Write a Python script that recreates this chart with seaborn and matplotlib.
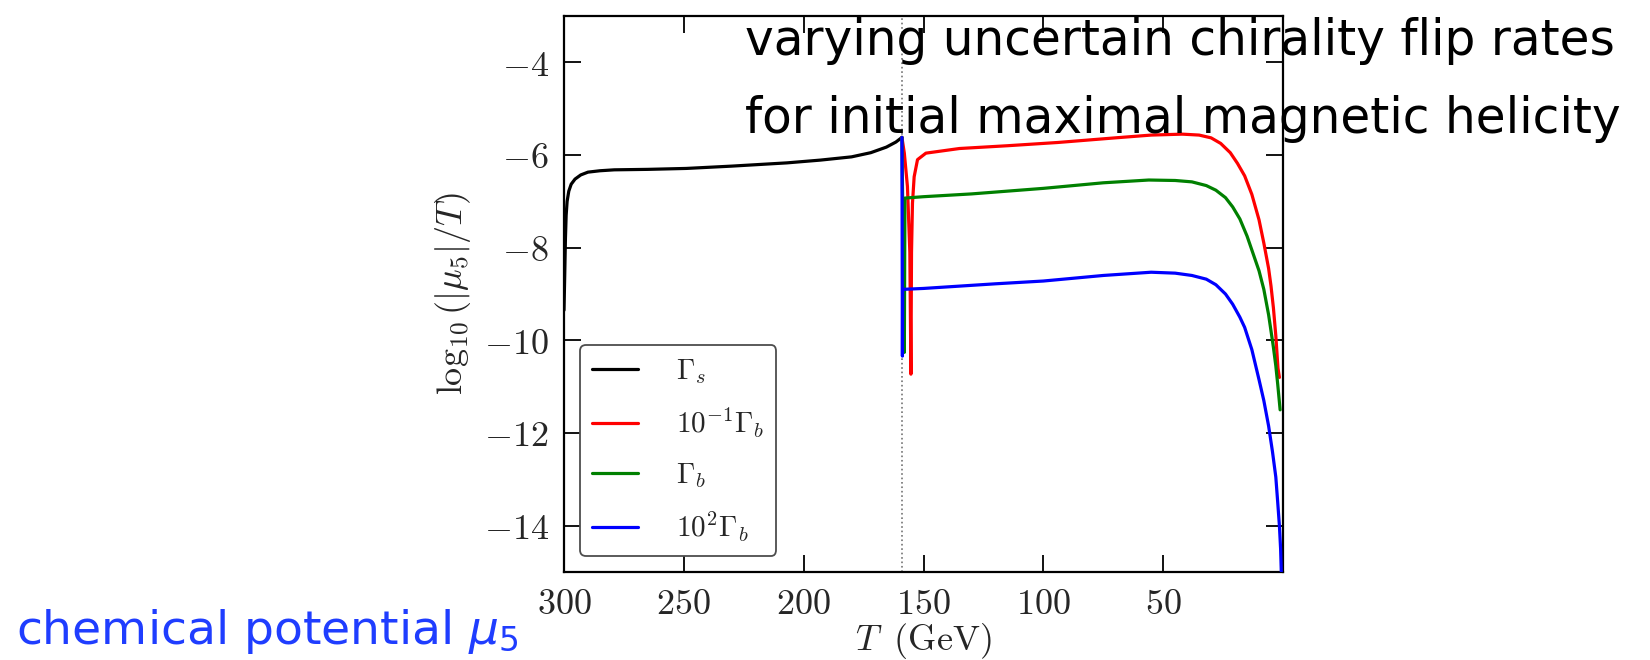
import numpy as np
import pandas as pd
import matplotlib
matplotlib.use("Agg")
import matplotlib.pyplot as plt
import seaborn as sns
from matplotlib.ticker import FixedLocator, FixedFormatter

# ---------------- data ----------------
T_s = [300.0, 299.7, 299.4, 299.1, 298.7, 298.0, 297.0, 295.4, 293.0, 290.0, 285.0,
       279.0, 265.0, 249.0, 230.0, 207.0, 193.0, 180.0, 172.0, 165.5, 161.5, 159.0]
mu_s = [-9.35, -8.6, -7.8, -7.3, -7.0, -6.78, -6.63, -6.52, -6.43, -6.37, -6.34,
        -6.32, -6.31, -6.29, -6.24, -6.17, -6.11, -6.04, -5.95, -5.83, -5.72, -5.62]

T_r = [159.0, 158.0, 156.7, 155.7, 155.25, 155.0, 154.6, 153.9, 152.5, 149.0, 135.0,
       115.0, 94.0, 70.0, 55.0, 42.0, 35.0, 30.0, 26.0, 22.0, 19.0, 16.0, 13.0, 10.0,
       8.0, 6.0, 5.0, 4.0, 3.0, 2.1, 1.5]
mu_r = [-5.62, -5.96, -6.68, -8.1, -10.73, -8.1, -7.04, -6.47, -6.1, -5.96, -5.86,
        -5.8, -5.73, -5.63, -5.57, -5.55, -5.57, -5.63, -5.75, -5.95, -6.18, -6.45,
        -6.85, -7.4, -7.9, -8.45, -8.83, -9.3, -9.9, -10.6, -10.8]

T_g = [159.0, 158.0, 157.75, 150.0, 130.0, 100.0, 75.0, 56.0, 45.0, 38.0, 32.0,
       28.0, 24.0, 21.0, 18.0, 15.0, 12.0, 10.0, 8.0, 6.0, 5.0, 4.0, 3.0, 2.2, 1.2]
mu_g = [-5.62, -10.26, -6.93, -6.9, -6.84, -6.72, -6.6, -6.54, -6.55, -6.58, -6.66,
        -6.76, -6.92, -7.12, -7.38, -7.75, -8.2, -8.5, -8.9, -9.45, -9.8, -10.15,
        -10.55, -10.95, -11.5]

T_b = [159.0, 158.8, 158.7, 150.0, 120.0, 100.0, 75.0, 55.0, 45.0, 38.0, 32.0,
       28.0, 24.0, 21.0, 18.0, 16.0, 13.0, 10.0, 8.0, 6.0, 4.4, 3.0, 2.2, 1.5,
       1.0, 0.6]
mu_b = [-5.62, -10.34, -8.9, -8.88, -8.78, -8.72, -8.6, -8.53, -8.55, -8.6, -8.68,
        -8.8, -9.0, -9.22, -9.5, -9.72, -10.2, -10.85, -11.3, -11.85, -12.4, -12.95,
        -13.5, -14.0, -14.5, -15.2]

series_labels = [r"$\Gamma_s$", r"$10^{-1}\Gamma_b$", r"$\Gamma_b$", r"$10^2\Gamma_b$"]
series_colors = ["black", "#ff0000", "#008000", "#0000ff"]

T_crossover = 159.0

x_ticks = [300, 250, 200, 150, 100, 50]
x_ticklabels = ["$300$", "$250$", "$200$", "$150$", "$100$", "$50$"]
y_ticks = [-14, -12, -10, -8, -6, -4]
y_ticklabels = ["$-14$", "$-12$", "$-10$", "$-8$", "$-6$", "$-4$"]

title_lines = ["varying uncertain chirality flip rates",
               "for initial maximal magnetic helicity"]
note_text = r"chemical potential $\mu_5$"

# ---------------- style ----------------
sns.set_style("ticks")
plt.rcParams["font.family"] = ["DejaVu Sans"]
plt.rcParams["mathtext.fontset"] = "cm"

fig = plt.figure(figsize=(16.5, 6.6), dpi=100)
ax = fig.add_axes([564 / 1650, 1 - 572 / 660, (1283 - 564) / 1650, (572 - 16) / 660])

ax.axvline(T_crossover, color="0.45", ls=":", lw=1.2, zorder=1)

all_T = [T_s, T_r, T_g, T_b]
all_mu = [mu_s, mu_r, mu_g, mu_b]
for Tv, mv, lab, col in zip(all_T, all_mu, series_labels, series_colors):
    df = pd.DataFrame({"T": Tv, "mu": mv})
    sns.lineplot(data=df, x="T", y="mu", sort=False, estimator=None,
                 color=col, lw=2.3, label=lab, ax=ax, zorder=3)

ax.set_xlim(300, 0)
ax.set_ylim(-15, -3)
ax.xaxis.set_major_locator(FixedLocator(x_ticks))
ax.xaxis.set_major_formatter(FixedFormatter(x_ticklabels))
ax.yaxis.set_major_locator(FixedLocator(y_ticks))
ax.yaxis.set_major_formatter(FixedFormatter(y_ticklabels))
ax.tick_params(direction="in", length=12, width=1.3, top=True, right=True,
               labelsize=26, pad=11, color="black")
for sp in ax.spines.values():
    sp.set_linewidth(1.6)
    sp.set_color("black")

ax.set_xlabel(r"$T\;\;(\mathrm{GeV})$", fontsize=26, labelpad=0)
ax.set_ylabel(r"$\log_{10}(|\mu_5|/T)$", fontsize=26, labelpad=8)

leg = ax.legend(loc="lower left", fontsize=21, frameon=True, fancybox=True,
                edgecolor="0.3", framealpha=1, handlelength=1.6,
                handletextpad=1.3, labelspacing=0.7, borderpad=0.4,
                borderaxespad=0.55)
leg.get_frame().set_linewidth(1.3)
for h in leg.get_lines():
    h.set_linewidth(2.3)

# overlay texts
fig.text(745 / 1650, 1 - 55 / 660, title_lines[0], fontsize=35, color="black",
         va="baseline", ha="left")
fig.text(745 / 1650, 1 - 133 / 660, title_lines[1], fontsize=35, color="black",
         va="baseline", ha="left")
fig.text(16 / 1650, 1 - 644 / 660, note_text, fontsize=34, color="#1f3dff",
         va="baseline", ha="left", math_fontfamily="dejavusans")

fig.savefig("out.png", dpi=100)
